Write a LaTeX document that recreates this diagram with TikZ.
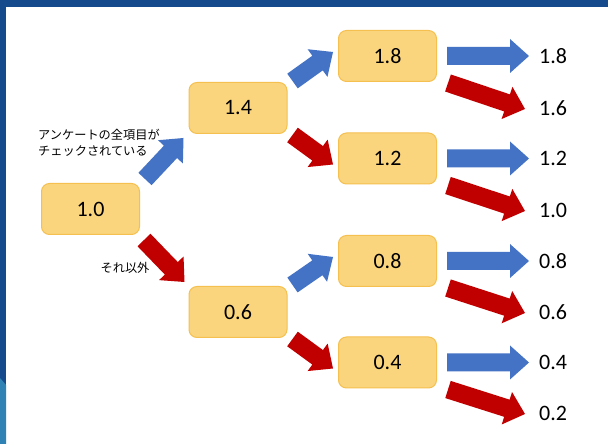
\documentclass[tikz,border=0pt]{standalone}
\usepackage{fontspec}
\setmainfont{Carlito}
\newfontfamily\jpfont{Noto Sans CJK JP}
\usetikzlibrary{calc}
\definecolor{frameblue}{RGB}{21,75,140}
\definecolor{frameteal}{RGB}{46,131,180}
\definecolor{boxfill}{RGB}{250,213,125}
\definecolor{boxedge}{RGB}{245,192,80}
\definecolor{upblue}{RGB}{68,114,196}
\definecolor{downred}{RGB}{192,0,0}
\newcommand\fatarr[3]{%
  \coordinate (fah) at ($(#2)!19pt!(#1)$);
  \fill[#3] ($(#1)!9pt!90:(#2)$) -- ($(fah)!9pt!90:(#2)$) -- ($(fah)!17pt!90:(#2)$) -- (#2)
    -- ($(fah)!17pt!-90:(#2)$) -- ($(fah)!9pt!-90:(#2)$) -- ($(#1)!9pt!-90:(#2)$) -- cycle;}
\tikzset{
  valbox/.style={draw=boxedge, fill=boxfill, rounded corners=8pt, minimum width=98pt,
    minimum height=51pt, inner sep=0pt, line width=1pt, font=\fontsize{22}{26}\selectfont},
  lbl/.style={anchor=west, inner sep=0pt, font=\fontsize{22}{26}\selectfont},
  jp/.style={inner sep=0pt, align=left, font=\jpfont\fontsize{12.2}{16}\selectfont}
}
\begin{document}
\begin{tikzpicture}[x=1pt,y=1pt]
\useasboundingbox (0,0) rectangle (608,444);
\fill[white] (0,0) rectangle (608,444);
\fill[frameblue] (0,437) rectangle (608,444);
\fill[frameblue] (0,0) rectangle (6,444);
\fill[frameteal] (0,0) -- (0,66) -- (6,59) -- (6,0) -- cycle;

% boxes
\node[valbox] (n10) at (90.5,235) {1.0};
\node[valbox] (n14) at (238,336) {1.4};
\node[valbox] (n06) at (238,132) {0.6};
\node[valbox] (n18) at (387.5,388) {1.8};
\node[valbox] (n12) at (387.5,285.5) {1.2};
\node[valbox] (n08) at (387.5,183) {0.8};
\node[valbox] (n04) at (387.5,81.5) {0.4};

% right labels
\node[lbl] (l18) at (539,388) {1.8};
\node[lbl] (l16) at (539,336) {1.6};
\node[lbl] (l12) at (539,285.5) {1.2};
\node[lbl] (l10) at (539,234) {1.0};
\node[lbl] (l08) at (539,183) {0.8};
\node[lbl] (l06) at (539,132) {0.6};
\node[lbl] (l04) at (539,81.5) {0.4};
\node[lbl] (l02) at (539,31) {0.2};

% texts
\node[jp, anchor=west] (q1) at (38,301.5) {アンケートの全項目が\\チェックされている};
\node[jp] (q2) at (125,176) {それ以外};

% level 1
\coordinate (b1s) at ([shift={(5pt,30pt)}]n10.east);
\coordinate (b1e) at ([shift={(-5pt,-4pt)}]n14.south west);
\coordinate (r1s) at ([shift={(4pt,-31pt)}]n10.east);
\coordinate (r1e) at ([shift={(-4pt,4pt)}]n06.north west);
\fatarr{b1s}{b1e}{upblue}
\fatarr{r1s}{r1e}{downred}

% level 2
\foreach \src/\up/\dn in {n14/n18/n12, n06/n08/n04}{
  \coordinate (bs) at ([shift={(5pt,27pt)}]\src.east);
  \coordinate (be) at ([shift={(-5pt,4pt)}]\up.west);
  \coordinate (rs) at ([shift={(5pt,-27pt)}]\src.east);
  \coordinate (re) at ([shift={(-5pt,-6pt)}]\dn.west);
  \fatarr{bs}{be}{upblue}
  \fatarr{rs}{re}{downred}
}

% level 3
\foreach \bx/\la/\lb in {n18/l18/l16, n12/l12/l10, n08/l08/l06, n04/l04/l02}{
  \coordinate (bs) at ([xshift=10pt]\bx.east);
  \coordinate (be) at ([xshift=-10pt]\la.west);
  \coordinate (rs) at ([shift={(11pt,-27pt)}]\bx.east);
  \coordinate (re) at ([shift={(-14pt,-1pt)}]\lb.west);
  \fatarr{bs}{be}{upblue}
  \fatarr{rs}{re}{downred}
}
\end{tikzpicture}
\end{document}
